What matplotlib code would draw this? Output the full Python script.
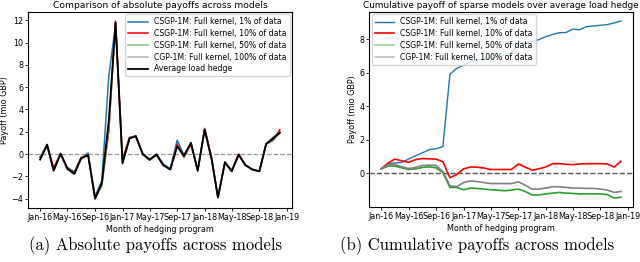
import matplotlib
matplotlib.use('Agg')
import matplotlib.pyplot as plt
import matplotlib.dates as mdates
import numpy as np
import pandas as pd

#--------------- data input -----------------------#
months = pd.date_range('2016-01-01', periods=36, freq='MS')

# absolute payoffs (mio GBP)
avg_hedge = [-0.5, 0.85, -1.5, 0.05, -1.3, -1.8, -0.4, -0.1, -4.0, -2.6, 3.0, 11.8,
             -0.8, 1.4, 1.6, 0.0, -0.5, -0.05, -1.0, -1.4, 0.7, -0.15, 1.0, -1.5,
             2.2, -0.5, -3.9, -0.75, -1.55, -0.05, -1.0, -1.4, -1.55, 0.9, 1.4, 1.9]
pay_1 = [-0.3, 0.8, -1.4, 0.0, -1.2, -1.6, -0.35, 0.1, -3.8, -2.4, 7.0, 11.6,
         -0.8, 1.4, 1.65, 0.0, -0.5, 0.0, -0.9, -1.3, 1.25, -0.1, 1.0, -1.5,
         2.2, -0.5, -3.9, -0.7, -1.45, -0.05, -1.0, -1.35, -1.55, 0.9, 1.5, 2.0]
pay_10 = [-0.25, 0.7, -1.2, 0.0, -1.35, -1.65, -0.3, -0.1, -4.0, -2.75, 2.1, 11.95,
          -0.45, 1.5, 1.6, -0.05, -0.55, -0.05, -1.0, -1.4, 0.9, -0.3, 0.85, -1.45,
          2.3, -0.3, -3.9, -0.75, -1.55, 0.0, -1.0, -1.4, -1.55, 0.9, 1.25, 2.2]
pay_50 = [-0.3, 0.8, -1.5, -0.05, -1.4, -1.75, -0.35, -0.05, -4.05, -2.9, 2.1, 11.8,
          -0.9, 1.5, 1.6, -0.05, -0.55, -0.1, -1.0, -1.35, 0.75, -0.3, 1.0, -1.5,
          2.25, -0.45, -3.9, -0.8, -1.55, -0.1, -1.0, -1.4, -1.55, 0.9, 1.2, 1.95]
pay_100 = [-0.3, 0.8, -1.5, 0.0, -1.4, -1.75, -0.35, -0.05, -4.0, -2.8, 2.2, 11.8,
           -0.9, 1.5, 1.6, -0.05, -0.55, -0.1, -1.0, -1.35, 0.75, -0.3, 1.0, -1.5,
           2.3, -0.45, -3.9, -0.8, -1.55, -0.1, -1.0, -1.4, -1.55, 0.9, 1.25, 1.95]

# cumulative payoff over average load hedge (mio GBP)
cum_1 = [0.25, 0.55, 0.6, 0.64, 0.83, 1.03, 1.2, 1.4, 1.45, 1.58, 5.9, 6.25,
         6.45, 6.65, 6.75, 6.8, 6.85, 6.95, 7.05, 7.2, 7.75, 7.81, 7.85, 7.97,
         8.15, 8.28, 8.38, 8.4, 8.6, 8.56, 8.75, 8.79, 8.83, 8.87, 8.97, 9.09]
cum_10 = [0.26, 0.6, 0.83, 0.73, 0.64, 0.8, 0.87, 0.85, 0.83, 0.67, -0.28, -0.09,
          0.25, 0.36, 0.35, 0.3, 0.21, 0.21, 0.21, 0.21, 0.54, 0.36, 0.17, 0.25,
          0.36, 0.56, 0.56, 0.52, 0.5, 0.54, 0.56, 0.56, 0.56, 0.54, 0.36, 0.7]
cum_50 = [0.25, 0.41, 0.41, 0.31, 0.21, 0.25, 0.33, 0.37, 0.31, 0.02, -0.86, -0.86,
          -1.0, -0.9, -0.92, -0.96, -1.0, -1.02, -1.06, -1.02, -0.96, -1.1, -1.31, -1.31,
          -1.25, -1.2, -1.16, -1.2, -1.22, -1.25, -1.25, -1.25, -1.25, -1.29, -1.5, -1.45]
cum_100 = [0.25, 0.5, 0.5, 0.37, 0.27, 0.33, 0.45, 0.47, 0.45, 0.08, -0.76, -0.82,
           -0.57, -0.47, -0.51, -0.57, -0.63, -0.63, -0.63, -0.63, -0.53, -0.72, -0.96, -0.96,
           -0.9, -0.82, -0.82, -0.86, -0.9, -0.9, -0.92, -0.92, -0.96, -1.02, -1.16, -1.1]

lab1 = 'CSGP-1M: Full kernel, 1% of data'
lab10 = 'CSGP-1M: Full kernel, 10% of data'
lab50 = 'CSGP-1M: Full kernel, 50% of data'
lab100 = 'CGP-1M: Full kernel, 100% of data'
labavg = 'Average load hedge'

#--------------- writing plots -----------------#
fig = plt.figure(figsize=(6.4, 2.62), dpi=100)
ax1 = fig.add_axes([0.044, 0.206, 0.412, 0.748])
ax2 = fig.add_axes([0.577, 0.21, 0.412, 0.744])

fs = 5.8

# (a) absolute payoffs
ax1.axhline(0, color='grey', linestyle='--', lw=0.9, alpha=0.8)
ax1.plot(months, pay_1, color='#1f77b4', lw=1.1, label=lab1)
ax1.plot(months, pay_10, color='red', lw=1.1, label=lab10)
ax1.plot(months, pay_50, color='#2ca02c', lw=1.1, alpha=0.6, label=lab50)
ax1.plot(months, pay_100, color='grey', lw=1.1, alpha=0.6, label=lab100)
ax1.plot(months, avg_hedge, color='black', lw=1.3, label=labavg)
ax1.set_title('Comparison of absolute payoffs across models', fontsize=6.6, pad=3)
ax1.set_ylabel('Payoff (mio GBP)', fontsize=fs, labelpad=2)
ax1.set_xlabel('Month of hedging program', fontsize=fs, labelpad=2)
ax1.set_yticks([-4, -2, 0, 2, 4, 6, 8, 10, 12])
ax1.legend(loc='upper right', fontsize=5.6, handlelength=2.5, labelspacing=0.35,
           borderpad=0.4, borderaxespad=0.3)

# (b) cumulative payoffs
ax2.axhline(0, color='#555555', linestyle='--', lw=1.0)
ax2.plot(months, cum_1, color='#1f77b4', lw=1.0, label=lab1)
ax2.plot(months, cum_10, color='red', lw=1.2, label=lab10)
ax2.plot(months, cum_50, color='#2ca02c', lw=1.2, label=lab50)
ax2.plot(months, cum_100, color='grey', lw=1.2, label=lab100)
ax2.set_title('Cumulative payoff of sparse models over average load hedge', fontsize=6.4, pad=3)
ax2.set_ylabel('Payoff (mio GBP)', fontsize=fs, labelpad=2)
ax2.set_xlabel('Month of hedging program', fontsize=fs, labelpad=2)
ax2.set_yticks([0, 2, 4, 6, 8])
leg2 = ax2.legend(loc='upper left', fontsize=5.6, handlelength=2.5, labelspacing=0.35,
                  borderpad=0.4, borderaxespad=0.3)
for h in leg2.get_lines()[2:]:
    h.set_alpha(0.5)

for ax in (ax1, ax2):
    ax.xaxis.set_major_locator(mdates.MonthLocator(bymonth=[1, 5, 9]))
    ax.xaxis.set_major_formatter(mdates.DateFormatter('%b-%y'))
    ax.tick_params(labelsize=fs, length=2, pad=1.5, width=0.6)
    for sp in ax.spines.values():
        sp.set_linewidth(0.8)

fig.text(0.243, 0.062, '(a) Absolute payoffs across models', ha='center', va='center',
         fontsize=12, family=['cmr10', 'DejaVu Serif'])
fig.text(0.745, 0.062, '(b) Cumulative payoffs across models', ha='center', va='center',
         fontsize=12, family=['cmr10', 'DejaVu Serif'])

fig.savefig('out.png', dpi=100)
